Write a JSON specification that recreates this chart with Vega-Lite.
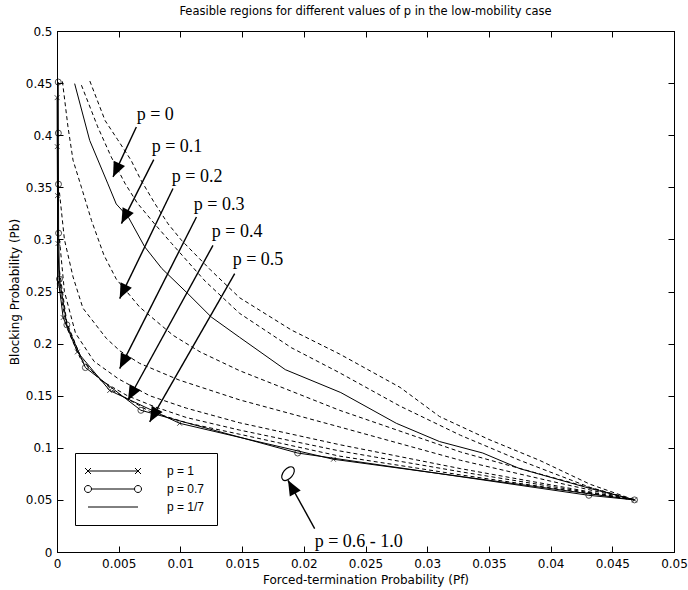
{
  "$schema": "https://vega.github.io/schema/vega-lite/v6.json",
  "width": 617,
  "height": 521,
  "autosize": "none",
  "padding": {"left": 57, "top": 31, "right": 14, "bottom": 38},
  "background": "white",
  "config": {"view": {"stroke": "black", "strokeWidth": 1}},
  "title": {"text": "Feasible regions for different values of p in the low-mobility case", "font": "DejaVu Sans", "fontSize": 11.5, "fontWeight": "normal", "color": "black", "offset": 8},
  "datasets": {
    "dashed": [
      {"curve": "a", "x": 0.00266, "y": 0.452}, {"curve": "a", "x": 0.0039, "y": 0.414}, {"curve": "a", "x": 0.0049, "y": 0.396}, {"curve": "a", "x": 0.006, "y": 0.376}, {"curve": "a", "x": 0.0068, "y": 0.357}, {"curve": "a", "x": 0.0079, "y": 0.335}, {"curve": "a", "x": 0.009, "y": 0.315}, {"curve": "a", "x": 0.0101, "y": 0.299}, {"curve": "a", "x": 0.0125, "y": 0.27}, {"curve": "a", "x": 0.0148, "y": 0.244}, {"curve": "a", "x": 0.019, "y": 0.213}, {"curve": "a", "x": 0.0229, "y": 0.19}, {"curve": "a", "x": 0.0278, "y": 0.158}, {"curve": "a", "x": 0.031, "y": 0.13}, {"curve": "a", "x": 0.035, "y": 0.108}, {"curve": "a", "x": 0.0391, "y": 0.088}, {"curve": "a", "x": 0.0432, "y": 0.065}, {"curve": "a", "x": 0.0468, "y": 0.05},
      {"curve": "b", "x": 0.00198, "y": 0.448}, {"curve": "b", "x": 0.0033, "y": 0.408}, {"curve": "b", "x": 0.0044, "y": 0.379}, {"curve": "b", "x": 0.0055, "y": 0.354}, {"curve": "b", "x": 0.0065, "y": 0.335}, {"curve": "b", "x": 0.0079, "y": 0.315}, {"curve": "b", "x": 0.0093, "y": 0.296}, {"curve": "b", "x": 0.012, "y": 0.26}, {"curve": "b", "x": 0.0148, "y": 0.229}, {"curve": "b", "x": 0.019, "y": 0.196}, {"curve": "b", "x": 0.0229, "y": 0.172}, {"curve": "b", "x": 0.0278, "y": 0.14}, {"curve": "b", "x": 0.0327, "y": 0.112}, {"curve": "b", "x": 0.0375, "y": 0.088}, {"curve": "b", "x": 0.0432, "y": 0.062}, {"curve": "b", "x": 0.0468, "y": 0.05},
      {"curve": "c", "x": 0.00044, "y": 0.4516}, {"curve": "c", "x": 0.00089, "y": 0.408}, {"curve": "c", "x": 0.0013, "y": 0.376}, {"curve": "c", "x": 0.00198, "y": 0.35}, {"curve": "c", "x": 0.0028, "y": 0.318}, {"curve": "c", "x": 0.0038, "y": 0.285}, {"curve": "c", "x": 0.0048, "y": 0.262}, {"curve": "c", "x": 0.0067, "y": 0.235}, {"curve": "c", "x": 0.0094, "y": 0.208}, {"curve": "c", "x": 0.0116, "y": 0.192}, {"curve": "c", "x": 0.0148, "y": 0.174}, {"curve": "c", "x": 0.0229, "y": 0.136}, {"curve": "c", "x": 0.0327, "y": 0.096}, {"curve": "c", "x": 0.04, "y": 0.072}, {"curve": "c", "x": 0.0468, "y": 0.05},
      {"curve": "d", "x": 0.0002, "y": 0.345}, {"curve": "d", "x": 0.0006, "y": 0.3}, {"curve": "d", "x": 0.0013, "y": 0.264}, {"curve": "d", "x": 0.0021, "y": 0.234}, {"curve": "d", "x": 0.004, "y": 0.205}, {"curve": "d", "x": 0.0051, "y": 0.193}, {"curve": "d", "x": 0.0067, "y": 0.181}, {"curve": "d", "x": 0.0099, "y": 0.165}, {"curve": "d", "x": 0.0148, "y": 0.146}, {"curve": "d", "x": 0.0229, "y": 0.12}, {"curve": "d", "x": 0.0327, "y": 0.088}, {"curve": "d", "x": 0.04, "y": 0.068}, {"curve": "d", "x": 0.0468, "y": 0.05},
      {"curve": "e", "x": 0.0002, "y": 0.3}, {"curve": "e", "x": 0.0006, "y": 0.25}, {"curve": "e", "x": 0.0015, "y": 0.21}, {"curve": "e", "x": 0.003, "y": 0.183}, {"curve": "e", "x": 0.005, "y": 0.166}, {"curve": "e", "x": 0.0075, "y": 0.15}, {"curve": "e", "x": 0.0105, "y": 0.138}, {"curve": "e", "x": 0.0148, "y": 0.124}, {"curve": "e", "x": 0.0229, "y": 0.103}, {"curve": "e", "x": 0.0327, "y": 0.08}, {"curve": "e", "x": 0.0468, "y": 0.05},
      {"curve": "f", "x": 0.0002, "y": 0.27}, {"curve": "f", "x": 0.0008, "y": 0.22}, {"curve": "f", "x": 0.002, "y": 0.185}, {"curve": "f", "x": 0.0035, "y": 0.165}, {"curve": "f", "x": 0.0057, "y": 0.15}, {"curve": "f", "x": 0.008, "y": 0.139}, {"curve": "f", "x": 0.0105, "y": 0.129}, {"curve": "f", "x": 0.0148, "y": 0.117}, {"curve": "f", "x": 0.0229, "y": 0.097}, {"curve": "f", "x": 0.0327, "y": 0.077}, {"curve": "f", "x": 0.0468, "y": 0.05},
      {"curve": "g", "x": 0.0001, "y": 0.26}, {"curve": "g", "x": 0.0008, "y": 0.215}, {"curve": "g", "x": 0.002, "y": 0.183}, {"curve": "g", "x": 0.0045, "y": 0.155}, {"curve": "g", "x": 0.0075, "y": 0.135}, {"curve": "g", "x": 0.0105, "y": 0.124}, {"curve": "g", "x": 0.0148, "y": 0.113}, {"curve": "g", "x": 0.0229, "y": 0.092}, {"curve": "g", "x": 0.0327, "y": 0.074}, {"curve": "g", "x": 0.0468, "y": 0.05}
    ],
    "series": [
      {"series": "p = 1", "x": 0.00001, "y": 0.436}, {"series": "p = 1", "x": 0.00002, "y": 0.389}, {"series": "p = 1", "x": 0.00004, "y": 0.342}, {"series": "p = 1", "x": 0.00008, "y": 0.296}, {"series": "p = 1", "x": 0.00018, "y": 0.255}, {"series": "p = 1", "x": 0.0005, "y": 0.225}, {"series": "p = 1", "x": 0.00165, "y": 0.192}, {"series": "p = 1", "x": 0.00427, "y": 0.155}, {"series": "p = 1", "x": 0.00994, "y": 0.1235}, {"series": "p = 1", "x": 0.0224, "y": 0.089}, {"series": "p = 1", "x": 0.0468, "y": 0.05},
      {"series": "p = 0.7", "x": 0.0001, "y": 0.451}, {"series": "p = 0.7", "x": 0.00011, "y": 0.402}, {"series": "p = 0.7", "x": 0.00012, "y": 0.353}, {"series": "p = 0.7", "x": 0.00013, "y": 0.306}, {"series": "p = 0.7", "x": 0.0002, "y": 0.262}, {"series": "p = 0.7", "x": 0.0008, "y": 0.218}, {"series": "p = 0.7", "x": 0.0023, "y": 0.177}, {"series": "p = 0.7", "x": 0.0068, "y": 0.136}, {"series": "p = 0.7", "x": 0.0195, "y": 0.095}, {"series": "p = 0.7", "x": 0.0431, "y": 0.0544}, {"series": "p = 0.7", "x": 0.0468, "y": 0.05},
      {"series": "p = 1/7", "x": 0.00143, "y": 0.4495}, {"series": "p = 1/7", "x": 0.00265, "y": 0.395}, {"series": "p = 1/7", "x": 0.0041, "y": 0.354}, {"series": "p = 1/7", "x": 0.0048, "y": 0.334}, {"series": "p = 1/7", "x": 0.0058, "y": 0.321}, {"series": "p = 1/7", "x": 0.0071, "y": 0.293}, {"series": "p = 1/7", "x": 0.0085, "y": 0.272}, {"series": "p = 1/7", "x": 0.0106, "y": 0.248}, {"series": "p = 1/7", "x": 0.0125, "y": 0.2255}, {"series": "p = 1/7", "x": 0.0148, "y": 0.206}, {"series": "p = 1/7", "x": 0.0185, "y": 0.175}, {"series": "p = 1/7", "x": 0.023, "y": 0.153}, {"series": "p = 1/7", "x": 0.0275, "y": 0.1235}, {"series": "p = 1/7", "x": 0.031, "y": 0.106}, {"series": "p = 1/7", "x": 0.0345, "y": 0.095}, {"series": "p = 1/7", "x": 0.0375, "y": 0.08}, {"series": "p = 1/7", "x": 0.0432, "y": 0.061}, {"series": "p = 1/7", "x": 0.0468, "y": 0.05}
    ],
    "notes": [
      {"label": "p = 0", "tx": 0.00646, "ty": 0.4143, "sx": 0.00643, "sy": 0.4079, "hx": 0.00454, "hy": 0.36},
      {"label": "p = 0.1", "tx": 0.00767, "ty": 0.3836, "sx": 0.00784, "sy": 0.3766, "hx": 0.00522, "hy": 0.3152},
      {"label": "p = 0.2", "tx": 0.0093, "ty": 0.3548, "sx": 0.0094, "sy": 0.3488, "hx": 0.00508, "hy": 0.2432},
      {"label": "p = 0.3", "tx": 0.01108, "ty": 0.3279, "sx": 0.0113, "sy": 0.3215, "hx": 0.00508, "hy": 0.176},
      {"label": "p = 0.4", "tx": 0.01254, "ty": 0.302, "sx": 0.01264, "sy": 0.2943, "hx": 0.00575, "hy": 0.1456},
      {"label": "p = 0.5", "tx": 0.01424, "ty": 0.2751, "sx": 0.0144, "sy": 0.2672, "hx": 0.00751, "hy": 0.1248},
      {"label": "p = 0.6 - 1.0", "tx": 0.02088, "ty": 0.0045, "sx": 0.02088, "sy": 0.0225, "hx": 0.01872, "hy": 0.0688}
    ],
    "ellipse": [{"x": 0.01872, "y": 0.0752}]
  },
  "resolve": {"axis": {"x": "independent", "y": "independent"}},
  "layer": [
    {
      "data": {"name": "dashed"},
      "mark": {"type": "line", "strokeDash": [4, 3], "strokeWidth": 1, "color": "black"},
      "encoding": {
        "x": {"field": "x", "type": "quantitative", "scale": {"domain": [0, 0.05], "nice": false, "zero": false},
          "axis": {"orient": "bottom", "title": "Forced-termination Probability (Pf)", "values": [0, 0.005, 0.01, 0.015, 0.02, 0.025, 0.03, 0.035, 0.04, 0.045, 0.05], "format": "~g", "grid": false, "tickSize": -6, "labelPadding": 12, "tickColor": "black", "domainColor": "black", "labelColor": "black", "labelFont": "DejaVu Sans", "labelFontSize": 12, "titleFont": "DejaVu Sans", "titleFontSize": 12, "titleFontWeight": "normal", "titleColor": "black", "titlePadding": 5, "labelFlush": false}},
        "y": {"field": "y", "type": "quantitative", "scale": {"domain": [0, 0.5], "nice": false, "zero": false},
          "axis": {"orient": "left", "title": "Blocking Probability (Pb)", "values": [0, 0.05, 0.1, 0.15, 0.2, 0.25, 0.3, 0.35, 0.4, 0.45, 0.5], "format": "~g", "grid": false, "tickSize": -6, "labelPadding": 11, "tickColor": "black", "domainColor": "black", "labelColor": "black", "labelFont": "DejaVu Sans", "labelFontSize": 12, "titleFont": "DejaVu Sans", "titleFontSize": 12, "titleFontWeight": "normal", "titleColor": "black", "titlePadding": 4, "labelFlush": false}},
        "detail": {"field": "curve"}
      }
    },
    {
      "data": {"name": "series"},
      "mark": {"type": "line", "strokeWidth": 1},
      "encoding": {
        "x": {"field": "x", "type": "quantitative", "axis": {"orient": "top", "title": null, "labels": false, "values": [0, 0.005, 0.01, 0.015, 0.02, 0.025, 0.03, 0.035, 0.04, 0.045, 0.05], "tickSize": -6, "tickColor": "black", "domainColor": "black", "grid": false}},
        "y": {"field": "y", "type": "quantitative", "axis": {"orient": "right", "title": null, "labels": false, "values": [0, 0.05, 0.1, 0.15, 0.2, 0.25, 0.3, 0.35, 0.4, 0.45, 0.5], "tickSize": -6, "tickColor": "black", "domainColor": "black", "grid": false}},
        "color": {"field": "series", "type": "nominal", "scale": {"domain": ["p = 1", "p = 0.7", "p = 1/7"], "range": ["black", "black", "black"]},
          "legend": {"orient": "none", "legendX": 18, "legendY": 422, "title": null, "strokeColor": "black", "fillColor": "white", "padding": 12, "labelFont": "Liberation Sans", "labelFontSize": 12, "labelColor": "black", "labelOffset": 68, "labelExpr": "datum.label + '\u00a0\u00a0\u00a0\u00a0'", "rowPadding": 6, "symbolSize": 100, "symbolStrokeWidth": 1, "symbolStrokeColor": "black", "symbolType": "stroke",
            "encode": {"symbols": {"update": {"shape": {"signal": "datum.value === 'p = 1' ? 'M-1,0L9,0M-1.6,-0.6L-0.4,0.6M-1.6,0.6L-0.4,-0.6M8.4,-0.6L9.6,0.6M8.4,0.6L9.6,-0.6' : (datum.value === 'p = 0.7' ? 'M-0.3,0L8.3,0M-0.3,0A0.7,0.7 0 1,1 -1.7,0A0.7,0.7 0 1,1 -0.3,0M9.7,0A0.7,0.7 0 1,1 8.3,0A0.7,0.7 0 1,1 9.7,0' : 'M-1,0L9,0')"}, "fill": {"value": "transparent"}, "stroke": {"value": "black"}}}}}
        }
      }
    },
    {
      "data": {"name": "series"},
      "transform": [{"filter": "datum.series !== 'p = 1/7'"}],
      "mark": {"type": "point", "filled": false, "strokeWidth": 1, "color": "black", "size": 36},
      "encoding": {
        "x": {"field": "x", "type": "quantitative", "axis": null},
        "y": {"field": "y", "type": "quantitative", "axis": null},
        "shape": {"field": "series", "type": "nominal", "scale": {"domain": ["p = 1", "p = 0.7"], "range": ["M-0.8,-0.8L0.8,0.8M-0.8,0.8L0.8,-0.8", "circle"]}, "legend": null}
      }
    },
    {
      "data": {"name": "notes"},
      "mark": {"type": "rule", "strokeWidth": 1.4, "color": "black"},
      "encoding": {
        "x": {"field": "sx", "type": "quantitative", "axis": null},
        "y": {"field": "sy", "type": "quantitative", "axis": null},
        "x2": {"field": "hx"},
        "y2": {"field": "hy"}
      }
    },
    {
      "data": {"name": "notes"},
      "transform": [{"calculate": "atan2((datum.hx - datum.sx) * 12340, (datum.hy - datum.sy) * 1042) * 180 / PI", "as": "ang"}],
      "mark": {"type": "point", "shape": "M0,0L-1,2.4L1,2.4Z", "filled": true, "color": "black", "size": 156, "opacity": 1},
      "encoding": {
        "x": {"field": "hx", "type": "quantitative", "axis": null},
        "y": {"field": "hy", "type": "quantitative", "axis": null},
        "angle": {"field": "ang", "type": "quantitative", "scale": null}
      }
    },
    {
      "data": {"name": "notes"},
      "mark": {"type": "text", "align": "left", "baseline": "alphabetic", "font": "Liberation Serif", "fontSize": 18, "color": "black"},
      "encoding": {
        "x": {"field": "tx", "type": "quantitative", "axis": null},
        "y": {"field": "ty", "type": "quantitative", "axis": null},
        "text": {"field": "label"}
      }
    },
    {
      "data": {"name": "ellipse"},
      "mark": {"type": "point", "shape": "M0,-1A0.6,1 0 1,1 0,1A0.6,1 0 1,1 0,-1", "filled": false, "color": "black", "strokeWidth": 1.2, "size": 256, "angle": 40, "opacity": 1},
      "encoding": {
        "x": {"field": "x", "type": "quantitative", "axis": null},
        "y": {"field": "y", "type": "quantitative", "axis": null}
      }
    }
  ]
}
